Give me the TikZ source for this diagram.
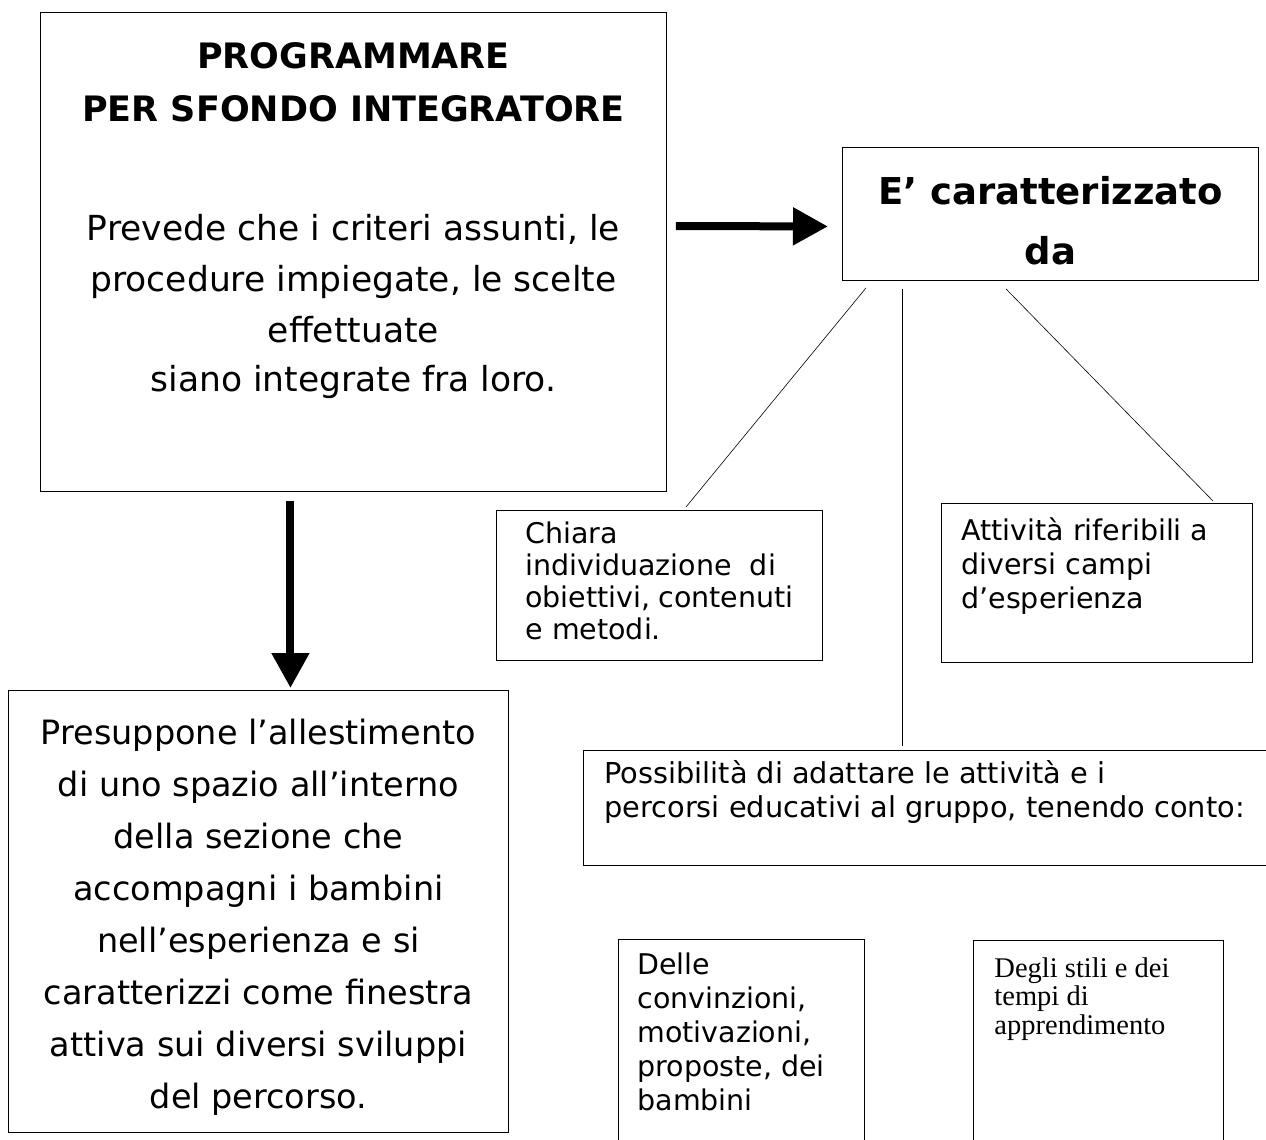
\documentclass[tikz,border=0pt]{standalone}
\usepackage{fontspec}
\setmainfont{DejaVu Sans}
\newfontfamily\timesfont{Liberation Serif}
\usetikzlibrary{arrows.meta,positioning,calc}
\newcommand{\topbox}[3]{\parbox[c][#2][t]{#1}{#3}}

\begin{document}
\begin{tikzpicture}[x=1pt,y=-1pt,
  frame/.style={draw, line width=0.9pt, inner sep=0pt, anchor=north west},
  note/.style={frame, inner xsep=19pt, inner ysep=0pt, align=left},
  bigarrow/.style={line width=8pt, -{Triangle[length=35pt,width=36pt]}},
  link/.style={line width=0.6pt}]
  \useasboundingbox (0,0) rectangle (1266,1140);

  % main box
  \node (prog) [frame] at (40,12) {\topbox{626pt}{479pt}{\centering
    \vspace*{30pt}
    {\fontsize{35}{53}\selectfont\bfseries PROGRAMMARE\\ PER SFONDO INTEGRATORE\par}
    \vspace{68pt}
    {\fontsize{34.5}{51}\selectfont Prevede che i criteri assunti, le\\ procedure impiegate, le scelte\\ effettuate\par}
    \vspace{-2pt}
    {\fontsize{34.5}{51}\selectfont siano integrate fra loro.\par}}};

  \node (ecar) [frame, minimum width=416pt, minimum height=133pt, align=center,
    font=\fontsize{37}{60}\selectfont\bfseries] at (842,147) {\rule{0pt}{42pt}E’ caratterizzato\\ da};

  \node (pres) [frame, minimum width=500pt, minimum height=442pt, align=center,
    font=\fontsize{33.5}{52}\selectfont] at (8,690)
    {\rule{0pt}{38pt}Presuppone l’allestimento\\ di uno spazio all’interno\\ della sezione che\\ accompagni i bambini\\
     nell’esperienza e si\\ caratterizzi come finestra\\ attiva sui diversi sviluppi\\ del percorso.};

  % small boxes
  \node (chiara) [note, inner xsep=29pt] at (496,510) {\topbox{268pt}{150pt}{%
    \fontsize{28.5}{32}\selectfont\vspace*{11pt}Chiara\\ individuazione\ \ di\\ obiettivi, contenuti\\ e metodi.}};
  \node (attiv) [note, inner xsep=20pt] at (941,503) {\topbox{271pt}{159pt}{%
    \fontsize{28.5}{34}\selectfont\vspace*{14pt}Attività riferibili a\\ diversi campi\\ d’esperienza}};
  \node (possib) [note, inner xsep=21pt] at (583,750) {\topbox{660pt}{115pt}{%
    \fontsize{28.8}{34}\selectfont\vspace*{10pt}Possibilità di adattare le attività e i\\ percorsi educativi al gruppo, tenendo conto:}};
  \node (delle) [note, inner xsep=19pt] at (618,939) {\topbox{208pt}{211pt}{%
    \fontsize{28.5}{34}\selectfont\vspace*{13pt}Delle\\ convinzioni,\\ motivazioni,\\ proposte, dei\\ bambini}};
  \node (degli) [note, inner xsep=21pt] at (973,940) {\topbox{208pt}{210pt}{%
    \timesfont\fontsize{28.5}{28.7}\selectfont\vspace*{17pt}Degli stili e dei\\ tempi di\\ apprendimento}};

  \draw [bigarrow] ([shift={(9,214)}]prog.north east) -- ([shift={(-14,12.5)}]ecar.west);
  \draw [bigarrow] ([shift={(-63,9)}]prog.south) -- ([shift={(32,-2)}]pres.north);

  \draw [link] ([shift={(24,7)}]ecar.south west) -- ([shift={(190,-3)}]chiara.north west);
  \draw [link] ([shift={(60,8)}]ecar.south west) -- ([shift={(319,-4)}]possib.north west);
  \draw [link] ([shift={(164,8)}]ecar.south west) -- ([shift={(272,-2)}]attiv.north west);

\end{tikzpicture}
\end{document}
